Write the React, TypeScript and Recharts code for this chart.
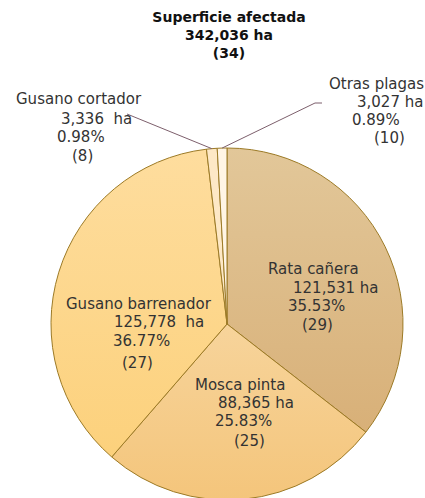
import React from "react";
import { PieChart, Pie, Cell } from "recharts";

// plagas y superficie afectada (ha)
const categories = ["Rata cañera", "Mosca pinta", "Gusano barrenador", "Gusano cortador", "Otras plagas"];
const hectares = [121531, 88365, 125778, 3336, 3027];
const hectareLabels = ["121,531 ha", "88,365 ha", "125,778  ha", "3,336  ha", "3,027 ha"];
const percentLabels = ["35.53%", "25.83%", "36.77%", "0.98%", "0.89%"];
const counts = [29, 25, 27, 8, 10];

const titleLines = ["Superficie afectada", "342,036 ha", "(34)"];

const FONT = "'DejaVu Sans', sans-serif";
const TEXT = "#333333";
const EDGE = "#9c7a26";
const LEADER = "#7d5f6c";

const gradients = [
  ["#e2c799", "#d8b078"],
  ["#f7d49b", "#f4c57b"],
  ["#fedd9e", "#fcd17c"],
  ["#fde8c6", "#fde8c6"],
  ["#fff5e5", "#fff5e5"],
];

// label block placement relative to pie center, and per-line indents / heights
const labelOffsets = [
  [41, -55],
  [-32, 61],
  [-161, -20],
  [-211, -225],
  [102, -240],
];
const lineIndents = [
  [0, 25, 20, 34],
  [0, 23, 20, 39],
  [0, 48, 47, 56],
  [0, 45, 41, 56],
  [0, 28, 23, 45],
];
const lineSteps = [
  [0, 19, 37, 56],
  [0, 18, 36, 56],
  [0, 18, 37, 59],
  [0, 20, 38, 57],
  [0, 18, 36, 54],
];
// leader line end points for the thin slices (relative to pie center)
const leaders: Record<number, number[][]> = {
  3: [[-100, -210]],
  4: [[88, -221], [95, -221]],
};

const data = categories.map((name, i) => ({
  name,
  value: hectares[i],
  ha: hectareLabels[i],
  pct: percentLabels[i],
  count: `(${counts[i]})`,
}));

const RAD = Math.PI / 180;

const renderLabel = (props: any) => {
  const { cx, cy, midAngle, outerRadius, index, payload } = props;
  const p = payload && payload.ha ? payload : data[index];
  const [ox, oy] = labelOffsets[index];
  const x0 = cx + ox;
  const y0 = cy + oy;
  const lines = [p.name, p.ha, p.pct, p.count];
  const lead = leaders[index];
  let path = null;
  if (lead) {
    const sx = cx + outerRadius * Math.cos(-midAngle * RAD);
    const sy = cy + outerRadius * Math.sin(-midAngle * RAD);
    const pts = [[sx, sy], ...lead.map(([dx, dy]) => [cx + dx, cy + dy])];
    path = (
      <polyline
        points={pts.map((q) => q.join(",")).join(" ")}
        fill="none"
        stroke={LEADER}
        strokeWidth={1}
      />
    );
  }
  return (
    <g key={`lbl-${index}`}>
      {path}
      {lines.map((t, j) => (
        <text
          key={j}
          x={x0 + lineIndents[index][j]}
          y={y0 + lineSteps[index][j]}
          fill={TEXT}
          fontFamily={FONT}
          fontSize={15}
          textAnchor="start"
          dominantBaseline="central"
          style={{ whiteSpace: "pre" }}
        >
          {t}
        </text>
      ))}
    </g>
  );
};

export default function App() {
  return (
    <div style={{ position: "absolute", left: 0, top: 0, width: 425, height: 498, background: "#fff", overflow: "hidden" }}>
      <div
        style={{
          position: "absolute",
          left: 0,
          top: 8,
          width: 458,
          textAlign: "center",
          fontFamily: FONT,
          fontWeight: "bold",
          fontSize: 14,
          lineHeight: "18px",
          color: "#111",
        }}
      >
        {titleLines.map((t) => (
          <div key={t}>{t}</div>
        ))}
      </div>
      <PieChart
        width={425}
        height={498}
        margin={{ top: 0, right: 0, bottom: 0, left: 0 }}
        style={{ position: "absolute", left: 0, top: 0 }}
      >
        <defs>
          {gradients.map(([a, b], i) => (
            <linearGradient key={i} id={`slice-${i}`} x1="0" y1="0" x2="0" y2="1">
              <stop offset="0%" stopColor={a} />
              <stop offset="100%" stopColor={b} />
            </linearGradient>
          ))}
        </defs>
        <Pie
          data={data}
          dataKey="value"
          nameKey="name"
          cx={227}
          cy={324}
          outerRadius={176}
          startAngle={90}
          endAngle={-270}
          stroke={EDGE}
          strokeWidth={1}
          label={renderLabel}
          labelLine={false}
          isAnimationActive={false}
        >
          {data.map((d, i) => (
            <Cell key={d.name} fill={`url(#slice-${i})`} />
          ))}
        </Pie>
      </PieChart>
    </div>
  );
}
